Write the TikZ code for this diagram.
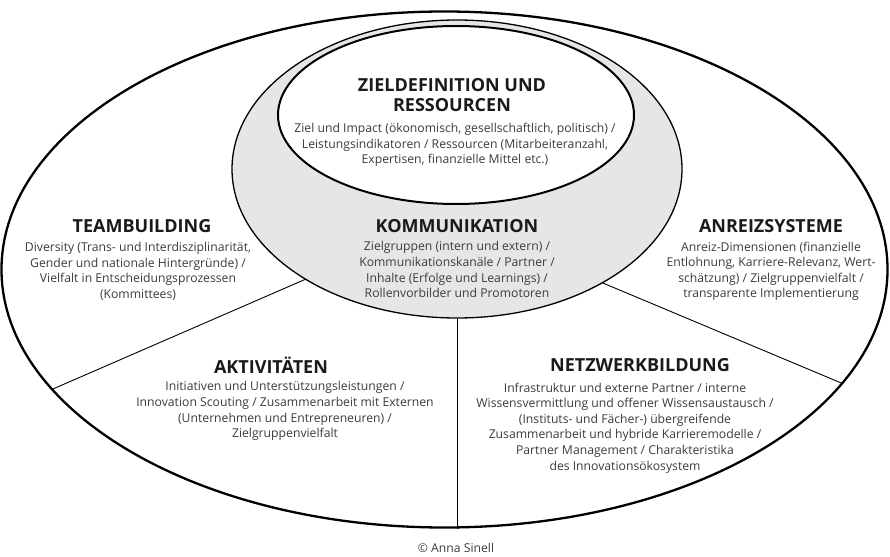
\documentclass[tikz,border=0pt]{standalone}
\usepackage{fontspec}
\setmainfont{Open Sans}
\usetikzlibrary{shapes.geometric}
\definecolor{bodygray}{HTML}{3C3C3C}
\definecolor{titleblack}{HTML}{1A1A1A}
\definecolor{fillgray}{HTML}{E6E6E6}
\tikzset{
  ringshape/.style={ellipse, inner sep=0pt, draw=black},
  titletext/.style={font=\fontsize{18}{20}\selectfont\bfseries, text=titleblack, inner sep=0pt, anchor=base},
  bodytext/.style={font=\fontsize{12.2}{15.6}\selectfont, text=bodygray, align=center, inner sep=0pt, anchor=north},
  spoke/.style={draw=black, line width=0.9pt}
}
\begin{document}
\begin{tikzpicture}[x=1pt, y=-1pt]
\useasboundingbox (0,0) rectangle (890,556);
% outer ellipse
\node[ringshape, line width=2.3pt, fill=white, minimum width=886pt, minimum height=516pt] (outer) at (444.5,269.5) {};
% communication circle
\node[ringshape, line width=1.3pt, fill=fillgray, minimum width=450pt, minimum height=298pt] (komm) at (457,169) {};
% goal ellipse
\node[ringshape, line width=2pt, fill=white, minimum width=356pt, minimum height=178pt] (ziel) at (456,115) {};
% spokes
\draw[spoke] (komm.216) -- (outer.197);
\draw[spoke] (komm.322) -- (outer.344.6);
\draw[spoke] (komm.south) -- (komm.south |- outer.south);
% texts
\node[titletext] (zielT) at (452,91.5) {ZIELDEFINITION UND};
\node[titletext] (zielR) at (452,111.5) {RESSOURCEN};
\node[bodytext] (zielB) at (455,123) {Ziel und Impact (ökonomisch, gesellschaftlich, politisch) /\\Leistungsindikatoren / Ressourcen (Mitarbeiteranzahl,\\Expertisen, finanzielle Mittel etc.)};
\node[titletext] (teamT) at (142,232.5) {TEAMBUILDING};
\node[bodytext] (teamB) at (138,242) {Diversity (Trans- und Interdisziplinarität,\\Gender und nationale Hintergründe) /\\Vielfalt in Entscheidungsprozessen\\(Kommittees)};
\node[titletext] (kommT) at (457,232.5) {KOMMUNIKATION};
\node[bodytext] (kommB) at (457,241.5) {Zielgruppen (intern und extern) /\\Kommunikationskanäle / Partner /\\Inhalte (Erfolge und Learnings) /\\Rollenvorbilder und Promotoren};
\node[titletext] (anrT) at (771,232.5) {ANREIZSYSTEME};
\node[bodytext] (anrB) at (771,241.5) {Anreiz-Dimensionen (finanzielle\\Entlohnung, Karriere-Relevanz, Wert-\\schätzung) / Zielgruppenvielfalt /\\transparente Implementierung};
\node[titletext] (aktT) at (271,373.5) {AKTIVITÄTEN};
\node[bodytext] (aktB) at (285,381.5) {Initiativen und Unterstützungsleistungen /\\Innovation Scouting / Zusammenarbeit mit Externen\\(Unternehmen und Entrepreneuren) /\\Zielgruppenvielfalt};
\node[titletext] (netT) at (640,371.5) {NETZWERKBILDUNG};
\node[bodytext] (netB) at (625,382.5) {Infrastruktur und externe Partner / interne\\Wissensvermittlung und offener Wissensaustausch /\\(Instituts- und Fächer-) übergreifende\\Zusammenarbeit und hybride Karrieremodelle /\\Partner Management / Charakteristika\\des Innovationsökosystem};
\node[bodytext, anchor=base] (copy) at (456,552.5) {© Anna Sinell};
\end{tikzpicture}
\end{document}
